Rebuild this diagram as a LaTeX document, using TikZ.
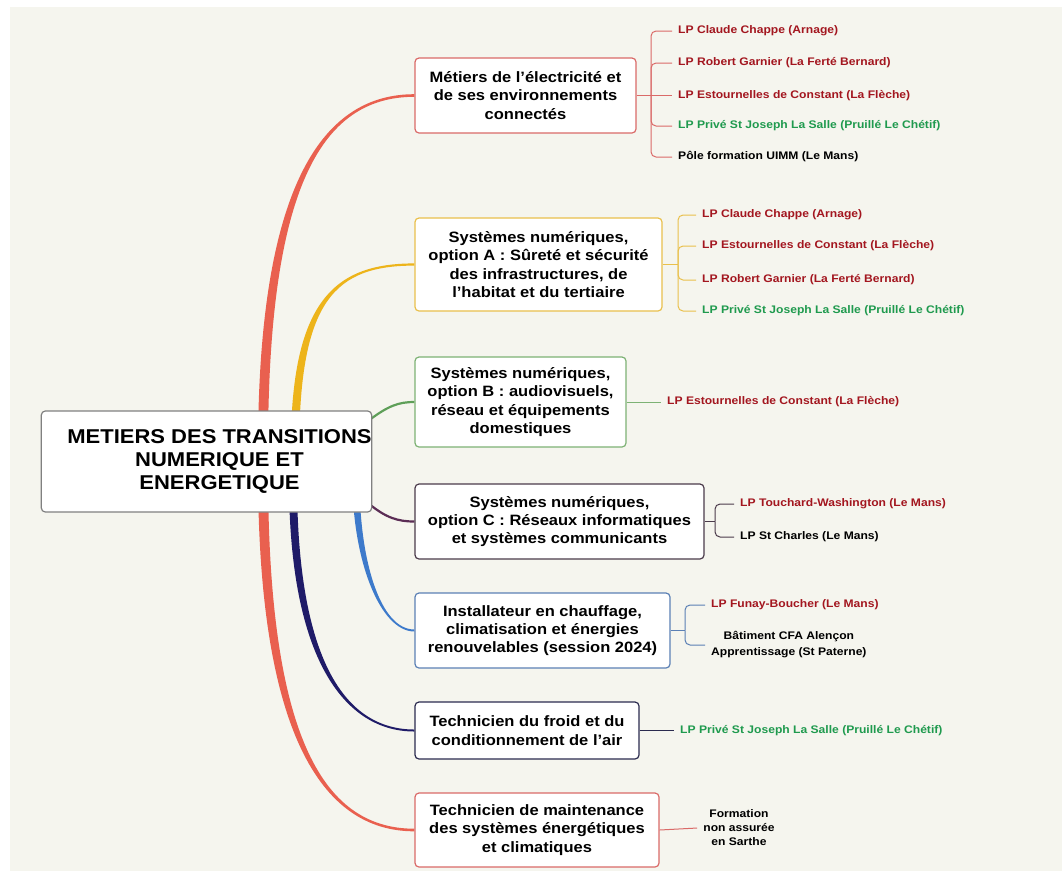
\documentclass[tikz,border=0pt]{standalone}
\usepackage{fontspec}
\setmainfont{Liberation Sans}[FakeStretch=1.1]
\usetikzlibrary{calc}
\usetikzlibrary{backgrounds}

\definecolor{paper}{HTML}{F5F5EE}
\definecolor{redbr}{HTML}{E9604F}
\definecolor{yelbr}{HTML}{EDB41A}
\definecolor{grnbr}{HTML}{5E9F58}
\definecolor{purbr}{HTML}{5B2D55}
\definecolor{blubr}{HTML}{3D7ACB}
\definecolor{navbr}{HTML}{1F1B68}
\definecolor{redbox}{HTML}{DA6A68}
\definecolor{yelbox}{HTML}{E9C04C}
\definecolor{grnbox}{HTML}{7DB274}
\definecolor{purbox}{HTML}{4B3B4B}
\definecolor{blubox}{HTML}{5B80B5}
\definecolor{navbox}{HTML}{2B2B4F}
\definecolor{lpred}{HTML}{A3161F}
\definecolor{lpgreen}{HTML}{1F9A4E}

% tapered branch: colour, start, end, control 1, control 2, half width at start, half width at end
\newcommand{\taper}[7]{%
\fill[#1] ($(#2)-(#6,0)$) .. controls ($(#4)-(#6,0)$) and ($(#5)-(0,#7)$) .. ($(#3)-(0,#7)$)
 -- ($(#3)+(0,#7)$) .. controls ($(#5)+(0,#7)$) and ($(#4)+(#6,0)$) .. ($(#2)+(#6,0)$) -- cycle;}

\begin{document}
\begin{tikzpicture}[x=1pt,y=-1pt,
  box/.style={draw=#1,fill=white,rounded corners=4pt,line width=1.2pt,align=center,inner sep=0pt,
    font=\fontsize{15}{18.3}\selectfont\bfseries},
  leaf/.style={anchor=west,inner xsep=6pt,inner ysep=2pt,text=#1,
    font=\fontsize{11}{16}\selectfont\bfseries},
  twig/.style={draw=#1,line width=1pt,rounded corners=5pt}]
\begin{scope}[on background layer]
\fill[white] (0,0) rectangle (1062,871);
\fill[paper] (10,7) rectangle (1062,871);
\end{scope}

\node[box=gray,minimum width=327pt,minimum height=101pt,font=\fontsize{20}{23}\selectfont\bfseries] (root) at (206.5,461.5) {\hspace*{26pt}METIERS DES TRANSITIONS\\\hspace*{26pt}NUMERIQUE ET\\\hspace*{26pt}ENERGETIQUE};

\node[box=redbox,minimum width=221pt,minimum height=75pt] (m1) at (525.5,95.5) {M\'etiers de l'\'electricit\'e et\\de ses environnements\\connect\'es};
\node[box=yelbox,minimum width=247pt,minimum height=93pt] (m2) at (538.5,264.5) {Syst\`emes num\'eriques,\\option A : S\^uret\'e et s\'ecurit\'e\\des infrastructures, de\\l'habitat et du tertiaire};
\node[box=grnbox,minimum width=211pt,minimum height=90pt] (m3) at (520.5,402) {Syst\`emes num\'eriques,\\option B : audiovisuels,\\r\'eseau et \'equipements\\domestiques};
\node[box=purbox,minimum width=289pt,minimum height=75pt] (m4) at (559.5,521.5) {Syst\`emes num\'eriques,\\option C : R\'eseaux informatiques\\et syst\`emes communicants};
\node[box=blubox,minimum width=255pt,minimum height=75pt] (m5) at (542.5,630.5) {Installateur en chauffage,\\climatisation et \'energies\\renouvelables (session 2024)};
\node[box=navbox,minimum width=224pt,minimum height=57pt] (m6) at (527,730.5) {Technicien du froid et du\\conditionnement de l'air};
\node[box=redbox,minimum width=244pt,minimum height=74pt] (m7) at (537,830) {Technicien de maintenance\\des syst\`emes \'energ\'etiques\\et climatiques};

\node[leaf=lpred] (m1a) at (672,31) {LP Claude Chappe (Arnage)};
\node[leaf=lpred] (m1b) at (672,63) {LP Robert Garnier (La Fert\'e Bernard)};
\node[leaf=lpred] (m1c) at (672,95.5) {LP Estournelles de Constant (La Fl\`eche)};
\node[leaf=lpgreen] (m1d) at (672,126) {LP Priv\'e St Joseph La Salle (Pruill\'e Le Ch\'etif)};
\node[leaf=black] (m1e) at (672,157) {P\^ole formation UIMM (Le Mans)};

\node[leaf=lpred] (m2a) at (696,215) {LP Claude Chappe (Arnage)};
\node[leaf=lpred] (m2b) at (696,246) {LP Estournelles de Constant (La Fl\`eche)};
\node[leaf=lpred] (m2c) at (696,280) {LP Robert Garnier (La Fert\'e Bernard)};
\node[leaf=lpgreen] (m2d) at (696,311) {LP Priv\'e St Joseph La Salle (Pruill\'e Le Ch\'etif)};

\node[leaf=lpred] (m3a) at (661,402) {LP Estournelles de Constant (La Fl\`eche)};

\node[leaf=lpred] (m4a) at (734,504) {LP Touchard-Washington (Le Mans)};
\node[leaf=black] (m4b) at (734,537) {LP St Charles (Le Mans)};

\node[leaf=lpred] (m5a) at (705,605) {LP Funay-Boucher (Le Mans)};
\node[leaf=black,align=center] (m5b) at (705,645) {B\^atiment CFA Alen\c{c}on\\Apprentissage (St Paterne)};

\node[leaf=lpgreen] (m6a) at (674,730.5) {LP Priv\'e St Joseph La Salle (Pruill\'e Le Ch\'etif)};

\node[leaf=black,anchor=center,align=center,font=\fontsize{11}{14}\selectfont\bfseries] (m7a) at (739,828) {Formation\\non assur\'ee\\en Sarthe};

\coordinate (j1) at (651,95.5);
\coordinate (j2) at (678,264.5);
\coordinate (j4) at (715,521.5);
\coordinate (j5) at (685,630.5);

\draw[twig=redbox] (m1.east) -- (m1c.west);
\foreach \l in {m1a,m1b,m1d,m1e} \draw[twig=redbox] (j1) |- (\l.west);
\draw[twig=yelbox] (m2.east) -- (j2);
\foreach \l in {m2a,m2b,m2c,m2d} \draw[twig=yelbox] (j2) |- (\l.west);
\draw[twig=grnbox] (m3.east) -- (m3a.west);
\draw[twig=purbox] (m4.east) -- (j4);
\foreach \l in {m4a,m4b} \draw[twig=purbox] (j4) |- (\l.west);
\draw[twig=blubox] (m5.east) -- (j5);
\foreach \l in {m5a,m5b} \draw[twig=blubox] (j5) |- (\l.west);
\draw[twig=navbox] (m6.east) -- (m6a.west);
\draw[twig=redbox] (m7.east) -- (m7a.west);

% branches from the centre
\coordinate (r1) at (263,450);
\coordinate (y2) at (295,450);
\coordinate (g3) at (368,421);
\coordinate (p4) at (368,503);
\coordinate (b5) at (356,480);
\coordinate (n6) at (293,480);
\coordinate (r7) at (263,470);
\begin{scope}[on background layer]
\taper{redbr}{r1}{m1.west}{263,190}{320,95.5}{5}{1.3}
\taper{yelbr}{y2}{m2.west}{295,300}{335,264.5}{4.2}{1.1}
\draw[grnbr,line width=2.2pt] (g3) .. controls (388,406) and (398,402) .. (m3.west);
\draw[purbr,line width=2.2pt] (p4) .. controls (386,518) and (398,521.5) .. (m4.west);
\taper{blubr}{b5}{m5.west}{356,560}{380,630.5}{3.5}{-1}
\taper{navbr}{n6}{m6.west}{293,660}{345,730.5}{4}{-1}
\taper{redbr}{r7}{m7.west}{263,730}{320,830}{5}{-1.3}
\end{scope}
\end{tikzpicture}
\end{document}
